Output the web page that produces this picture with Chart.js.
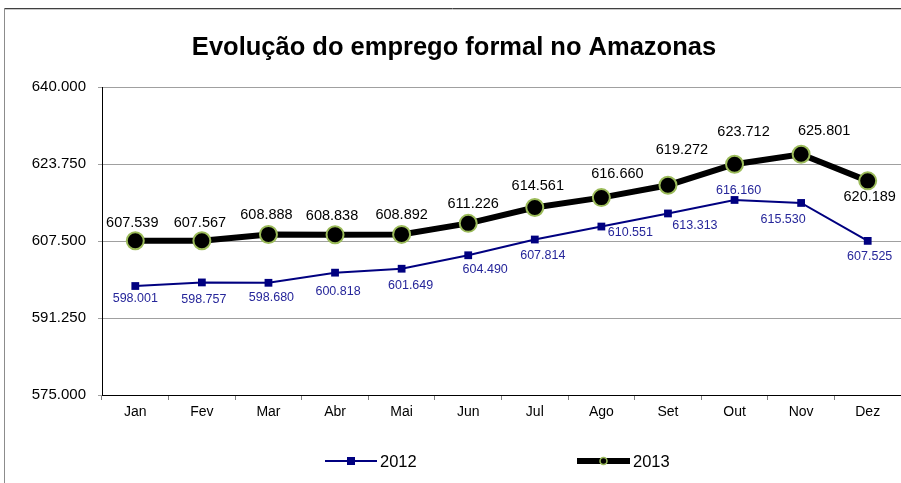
<!DOCTYPE html>
<html>
<head>
<meta charset="utf-8">
<script src="https://cdn.jsdelivr.net/npm/chart.js@4/dist/chart.umd.min.js"></script>
<style>
  body { margin: 0; background: #fff; }
  canvas { display: block; }
</style>
</head>
<body>
<canvas id="grafico" width="901" height="483"></canvas>
<script>
const meses = ['Jan', 'Fev', 'Mar', 'Abr', 'Mai', 'Jun', 'Jul', 'Ago', 'Set', 'Out', 'Nov', 'Dez'];
const emprego2012 = [598.001, 598.757, 598.680, 600.818, 601.649, 604.490, 607.814, 610.551, 613.313, 616.160, 615.530, 607.525];
const emprego2013 = [607.539, 607.567, 608.888, 608.838, 608.892, 611.226, 614.561, 616.660, 619.272, 623.712, 625.801, 620.189];
const yTicks = [575, 591.25, 607.5, 623.75, 640];

// deslocamento dos rótulos (px) em relação ao ponto, como no original
const off2012 = [[0,13],[2,17],[3,15],[3,19],[9,17],[17,14],[8,16],[29,6],[27,12],[4,-9],[-18,17],[2,16]];
const off2013 = [[-3,-18],[-2,-18],[-2,-19],[-3,-19],[0,-19],[5,-19],[3,-22],[16,-24],[14,-35],[9,-32],[23,-23],[2,16]];

const FONT = 'Arial, "Liberation Sans", sans-serif';

const extras = {
  id: 'extras',
  beforeDraw(chart) {
    const c = chart.ctx;
    c.save();
    c.fillStyle = '#fff';
    c.fillRect(0, 0, chart.width, chart.height);
    c.strokeStyle = '#404040';
    c.lineWidth = 1;
    c.beginPath(); c.moveTo(4, 8.5); c.lineTo(chart.width, 8.5); c.stroke();
    c.strokeStyle = '#c8c8c8';
    c.beginPath(); c.moveTo(4, 9.5); c.lineTo(chart.width, 9.5); c.stroke();
    c.strokeStyle = '#8c8c8c';
    c.beginPath(); c.moveTo(4.5, 8); c.lineTo(4.5, chart.height); c.stroke();
    c.restore();
  },
  afterDatasetsDraw(chart) {
    const c = chart.ctx;
    c.save();
    // título
    c.fillStyle = '#000';
    c.font = 'bold 25.5px ' + FONT;
    c.textAlign = 'center';
    c.textBaseline = 'middle';
    c.fillText('Evolução do emprego formal no Amazonas', 454, 48);

    // rótulos de dados
    const specs = [
      { i: 0, offs: off2012, font: '12.5px ' + FONT, color: '#26269a' },
      { i: 1, offs: off2013, font: '14.5px ' + FONT, color: '#000' }
    ];
    specs.forEach(s => {
      const meta = chart.getDatasetMeta(s.i);
      const vals = chart.data.datasets[s.i].data;
      c.font = s.font;
      c.fillStyle = s.color;
      meta.data.forEach((pt, k) => {
        const o = s.offs[k];
        c.fillText(vals[k].toFixed(3), pt.x + o[0], pt.y + o[1]);
      });
    });

    // legenda
    const items = [
      { i: 0, x: 325, w: 52 },
      { i: 1, x: 577, w: 53 }
    ];
    const ly = 461;
    items.forEach(it => {
      const ds = chart.data.datasets[it.i];
      c.strokeStyle = ds.borderColor;
      c.lineWidth = ds.borderWidth;
      c.lineCap = 'butt';
      c.beginPath(); c.moveTo(it.x, ly); c.lineTo(it.x + it.w, ly); c.stroke();
      const mx = it.x + it.w / 2;
      if (ds.pointStyle === 'rect') {
        c.fillStyle = ds.pointBackgroundColor;
        c.fillRect(mx - 4, ly - 4, 8, 8);
      } else {
        c.fillStyle = ds.pointBackgroundColor;
        c.strokeStyle = ds.pointBorderColor;
        c.lineWidth = 1.5;
        c.beginPath(); c.arc(mx, ly, 3.5, 0, Math.PI * 2); c.fill(); c.stroke();
      }
      c.fillStyle = '#000';
      c.font = '16.5px ' + FONT;
      c.textAlign = 'left';
      c.fillText(ds.label, it.x + it.w + 3, ly + 1);
    });
    c.restore();
  }
};

new Chart(document.getElementById('grafico'), {
  type: 'line',
  data: {
    labels: meses,
    datasets: [
      {
        label: '2012',
        data: emprego2012,
        borderColor: '#000080',
        borderWidth: 2,
        pointStyle: 'rect',
        pointRadius: 5.5,
        pointBackgroundColor: '#000080',
        pointBorderColor: '#000080',
        pointBorderWidth: 0,
        tension: 0,
        clip: false
      },
      {
        label: '2013',
        data: emprego2013,
        borderColor: '#000000',
        borderWidth: 6,
        pointStyle: 'circle',
        pointRadius: 8.5,
        pointBackgroundColor: '#000000',
        pointBorderColor: '#9bbb59',
        pointBorderWidth: 2,
        tension: 0,
        clip: false
      }
    ]
  },
  options: {
    responsive: false,
    animation: false,
    layout: { autoPadding: false, padding: { top: 87, left: 0, right: -1, bottom: 0 } },
    plugins: {
      legend: { display: false },
      title: { display: false },
      tooltip: { enabled: false }
    },
    scales: {
      x: {
        offset: true,
        grid: { display: true, drawOnChartArea: false, offset: true, tickLength: 5, color: '#808080' },
        border: { display: true, color: '#000', width: 1 },
        ticks: { color: '#000', font: { family: FONT, size: 14 }, padding: 4 },
        afterFit(scale) { scale.height = 88; }
      },
      y: {
        min: 575,
        max: 640,
        afterBuildTicks(scale) { scale.ticks = yTicks.map(v => ({ value: v })); },
        grid: { color: '#a0a0a0', tickLength: 4 },
        border: { display: true, color: '#000', width: 1 },
        ticks: {
          color: '#000',
          font: { family: FONT, size: 15 },
          padding: 12,
          callback: v => Number(v).toFixed(3)
        },
        afterFit(scale) { scale.width = 102; }
      }
    }
  },
  plugins: [extras]
});
</script>
</body>
</html>
